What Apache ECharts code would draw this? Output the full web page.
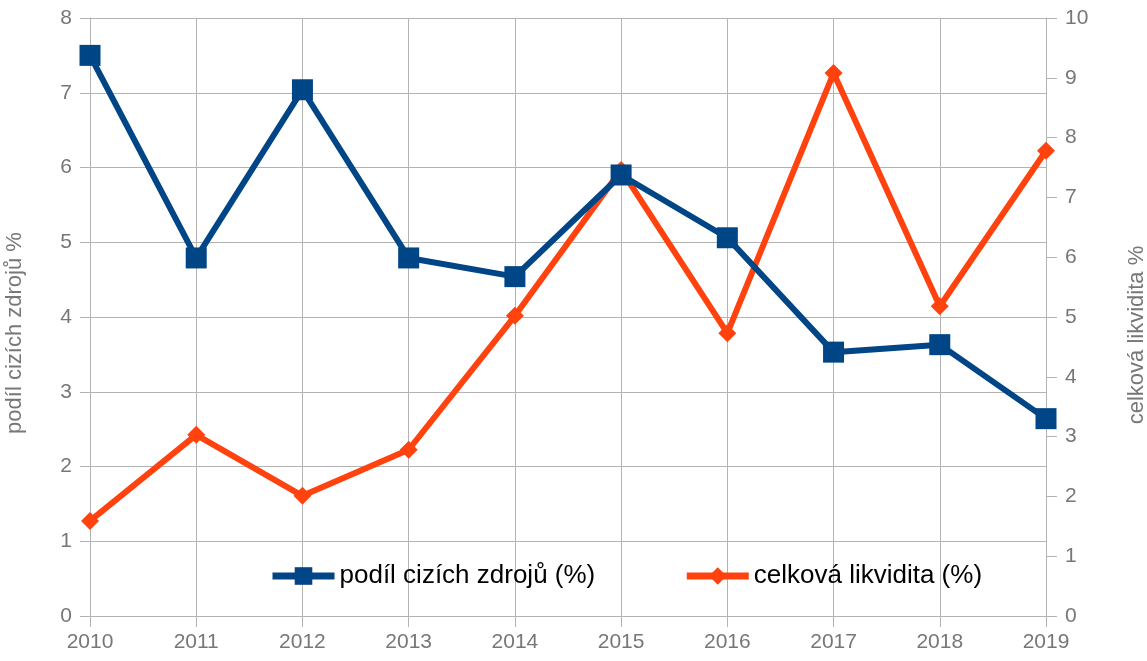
<!DOCTYPE html>
<html>
<head>
<meta charset="utf-8">
<script src="https://cdn.jsdelivr.net/npm/echarts@6/dist/echarts.min.js"></script>
<style>
  html, body { margin: 0; padding: 0; background: #fff; }
  #chart { width: 1147px; height: 661px; }
</style>
</head>
<body>
<div id="chart"></div>
<script>
const years = ['2010', '2011', '2012', '2013', '2014', '2015', '2016', '2017', '2018', '2019'];
const podilCizichZdroju = [7.50, 4.79, 7.04, 4.79, 4.54, 5.90, 5.06, 3.53, 3.63, 2.64];
const celkovaLikvidita = [1.59, 3.03, 2.01, 2.78, 5.02, 7.46, 4.73, 9.08, 5.18, 7.78];

const gray = '#b3b3b3';
const labelColor = '#777';
const font = 'Liberation Sans';

let chart = echarts.init(document.getElementById('chart'));
chart.setOption({
  animation: false,
  textStyle: {fontFamily: font},
  grid: {left: 90, right: 101, top: 18, bottom: 45, outerBoundsMode: 'none'},
  legend: {
    left: 264, top: 558,
    itemWidth: 62, itemHeight: 22, itemGap: 88,
    lineStyle: {width: 7},
    textStyle: {fontSize: 26, color: '#000', fontFamily: font},
    data: ['podíl cizích zdrojů (%)', 'celková likvidita (%)']
  },
  xAxis: {
    type: 'category',
    data: years,
    boundaryGap: false,
    axisLine: {lineStyle: {color: gray, width: 1}},
    axisTick: {show: true, length: 11, lineStyle: {color: gray}},
    axisLabel: {color: labelColor, fontSize: 21, margin: 16},
    splitLine: {show: true, lineStyle: {color: gray}}
  },
  yAxis: [{
    type: 'value', min: 0, max: 8, interval: 1,
    name: 'podíl cizích zdrojů %', nameLocation: 'middle', nameGap: 64,
    nameTextStyle: {color: labelColor, fontSize: 22, padding: [0, 32, 0, 0]},
    axisLine: {show: true, lineStyle: {color: gray}},
    axisTick: {show: true, length: 10, lineStyle: {color: gray}},
    axisLabel: {color: labelColor, fontSize: 21, margin: 18},
    splitLine: {lineStyle: {color: gray}}
  }, {
    type: 'value', min: 0, max: 10, interval: 1, position: 'right',
    name: 'celková likvidita %', nameLocation: 'middle', nameGap: 80,
    nameRotate: 90,
    nameTextStyle: {color: labelColor, fontSize: 22, padding: [0, 36, 0, 0]},
    axisLine: {show: true, lineStyle: {color: gray}},
    axisTick: {show: true, length: 11, lineStyle: {color: gray}},
    axisLabel: {color: labelColor, fontSize: 21, margin: 19},
    splitLine: {show: false}
  }],
  series: [{
    name: 'podíl cizích zdrojů (%)',
    type: 'line',
    yAxisIndex: 0,
    data: podilCizichZdroju,
    symbol: 'rect', symbolSize: 21,
    lineStyle: {color: '#004586', width: 6},
    itemStyle: {color: '#004586'},
    z: 3
  }, {
    name: 'celková likvidita (%)',
    type: 'line',
    yAxisIndex: 1,
    data: celkovaLikvidita,
    symbol: 'diamond', symbolSize: 18,
    lineStyle: {color: '#ff420e', width: 6},
    itemStyle: {color: '#ff420e'},
    z: 2
  }]
});
</script>
</body>
</html>
